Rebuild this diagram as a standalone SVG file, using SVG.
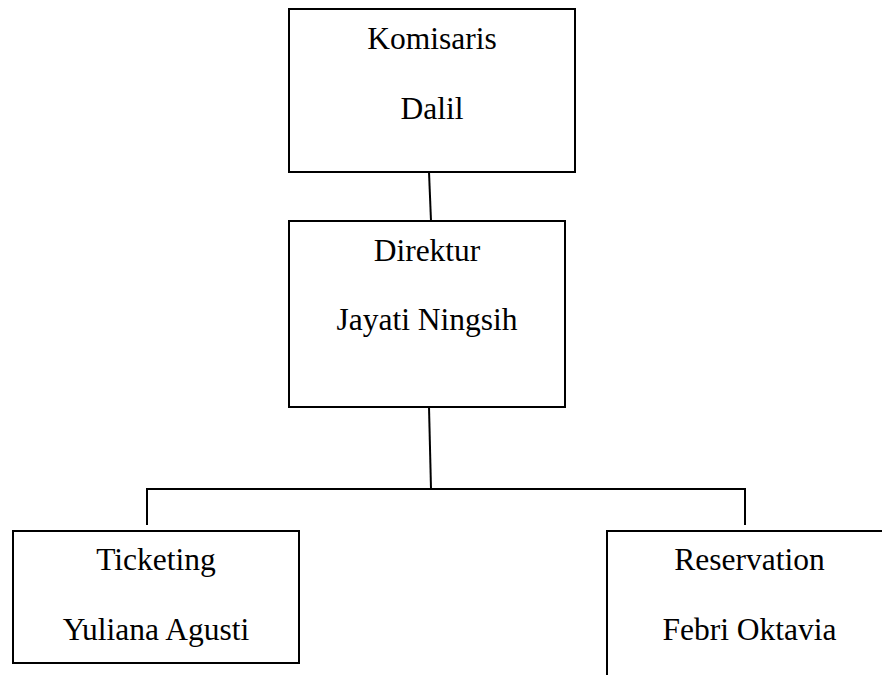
<svg xmlns="http://www.w3.org/2000/svg" width="882" height="675" viewBox="0 0 882 675">
<style>
.box{fill:#fff;stroke:#000;stroke-width:2}
.ln{fill:none;stroke:#000;stroke-width:2}
text{font-family:"Liberation Serif","Times New Roman",serif;font-size:31.5px;fill:#000;text-anchor:middle}
</style>
<rect width="882" height="675" fill="#fff"/>
<g id="connectors">
<line class="ln" x1="429" y1="172" x2="431" y2="221"/>
<line class="ln" x1="429" y1="407" x2="431" y2="489"/>
<polyline class="ln" points="147,525 147,489 745,489 745,525"/>
</g>
<g id="komisaris">
<rect class="box" x="289" y="9" width="286" height="163"/>
<text x="432" y="49">Komisaris</text>
<text x="432" y="119">Dalil</text>
</g>
<g id="direktur">
<rect class="box" x="289" y="221" width="276" height="186"/>
<text x="427" y="261">Direktur</text>
<text x="427" y="330">Jayati Ningsih</text>
</g>
<g id="ticketing">
<rect class="box" x="13" y="531" width="286" height="132"/>
<text x="156" y="570">Ticketing</text>
<text x="156" y="640">Yuliana Agusti</text>
</g>
<g id="reservation">
<rect class="box" x="607" y="531" width="286" height="160"/>
<text x="749.5" y="570">Reservation</text>
<text x="749.5" y="640">Febri Oktavia</text>
</g>
</svg>
